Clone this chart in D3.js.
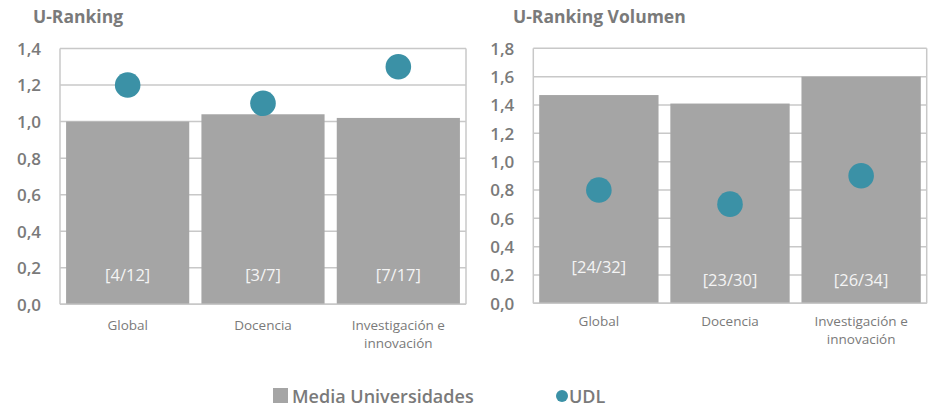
<!DOCTYPE html>
<html>
<head>
<meta charset="utf-8">
<script src="https://cdn.jsdelivr.net/npm/d3@7/dist/d3.min.js"></script>
<style>
  html, body { margin: 0; padding: 0; background: #fff; }
  svg { display: block; font-family: "Open Sans", "Noto Sans", sans-serif; }
</style>
</head>
<body>
<svg id="chart" width="935" height="409"></svg>
<script>
// Categories shared by both panels
const categories = ["Global", "Docencia", "Investigación e innovación"];

// U-Ranking (productividad)
const mediaRanking = [1.00, 1.04, 1.02];
const udlRanking = [1.2, 1.1, 1.3];
const posRanking = ["[4/12]", "[3/7]", "[7/17]"];
const ticksRanking = [0, 0.2, 0.4, 0.6, 0.8, 1.0, 1.2, 1.4];

// U-Ranking Volumen
const mediaVolumen = [1.47, 1.41, 1.60];
const udlVolumen = [0.8, 0.7, 0.9];
const posVolumen = ["[24/32]", "[23/30]", "[26/34]"];
const ticksVolumen = [0, 0.2, 0.4, 0.6, 0.8, 1.0, 1.2, 1.4, 1.6, 1.8];

// Legend entries
const legendItems = ["Media Universidades", "UDL"];

const BAR = "#a5a5a5";
const DOT = "#3b91a6";
const GRID = "#c8c8c8";
const TEXT = "#7a7a7a";

const svg = d3.select("#chart");
const fmt = v => d3.format(".1f")(v).replace(".", ",");

function panel(cfg) {
  const g = svg.append("g");
  const x = d3.scaleBand()
    .domain(categories)
    .range([cfg.x0, cfg.x1])
    .paddingInner(0.09)
    .paddingOuter(0.045);
  const y = d3.scaleLinear()
    .domain([0, cfg.ticks[cfg.ticks.length - 1]])
    .range([cfg.yBot, cfg.yTop]);

  // title
  g.append("text")
    .attr("x", cfg.titleX).attr("y", 23)
    .attr("font-size", 17.5).attr("font-weight", 700)
    .attr("fill", TEXT)
    .text(cfg.title);

  // horizontal gridlines
  g.append("g").selectAll("line").data(cfg.ticks).join("line")
    .attr("x1", cfg.x0).attr("x2", cfg.x1)
    .attr("y1", d => y(d)).attr("y2", d => y(d))
    .attr("stroke", GRID).attr("stroke-width", 1.5);

  // plot frame sides
  g.append("line").attr("x1", cfg.x0).attr("x2", cfg.x0)
    .attr("y1", cfg.yTop).attr("y2", cfg.yBot)
    .attr("stroke", GRID).attr("stroke-width", 1.5);
  g.append("line").attr("x1", cfg.x1).attr("x2", cfg.x1)
    .attr("y1", cfg.yTop).attr("y2", cfg.yBot)
    .attr("stroke", GRID).attr("stroke-width", 1.5);

  // y axis labels
  const yAxis = d3.axisLeft(y).tickValues(cfg.ticks).tickFormat(fmt).tickSize(0).tickPadding(19);
  const ax = g.append("g").attr("transform", `translate(${cfg.x0},0)`).call(yAxis);
  ax.select(".domain").remove();
  ax.selectAll("text")
    .attr("font-family", "'Open Sans', 'Noto Sans', sans-serif")
    .attr("font-size", 17).attr("font-weight", 600)
    .attr("fill", TEXT).attr("dy", "0.35em");

  // bars (media)
  g.append("g").selectAll("rect").data(cfg.media).join("rect")
    .attr("x", (d, i) => x(categories[i]))
    .attr("width", x.bandwidth())
    .attr("y", d => y(d))
    .attr("height", d => y(0) - y(d))
    .attr("fill", BAR);

  // bottom axis line drawn over bars
  g.append("line").attr("x1", cfg.x0).attr("x2", cfg.x1)
    .attr("y1", y(0)).attr("y2", y(0))
    .attr("stroke", GRID).attr("stroke-width", 1.5);

  // position labels inside the bars
  g.append("g").selectAll("text").data(cfg.pos).join("text")
    .attr("x", (d, i) => x(categories[i]) + x.bandwidth() / 2)
    .attr("y", (d, i) => y(0) - cfg.labelLift[i])
    .attr("text-anchor", "middle")
    .attr("font-size", 16.5).attr("fill", "#f4f4f4")
    .text(d => d);

  // UDL dots
  g.append("g").selectAll("circle").data(cfg.udl).join("circle")
    .attr("cx", (d, i) => x(categories[i]) + x.bandwidth() / 2)
    .attr("cy", d => y(d))
    .attr("r", 12.8)
    .attr("fill", DOT);

  // category labels (wrapped)
  const wrap = { "Investigación e innovación": ["Investigación e", "innovación"] };
  categories.forEach(c => {
    const lines = wrap[c] || [c];
    const t = g.append("text")
      .attr("x", x(c) + x.bandwidth() / 2)
      .attr("y", cfg.catY)
      .attr("text-anchor", "middle")
      .attr("font-size", 13.5).attr("fill", TEXT);
    lines.forEach((l, i) => t.append("tspan")
      .attr("x", x(c) + x.bandwidth() / 2)
      .attr("dy", i === 0 ? 0 : 18)
      .text(l));
  });
}

panel({
  title: "U-Ranking", titleX: 33,
  x0: 60, x1: 466, yTop: 48.5, yBot: 304.3,
  ticks: ticksRanking, media: mediaRanking, udl: udlRanking, pos: posRanking,
  labelLift: [23, 23, 23], catY: 330
});

panel({
  title: "U-Ranking Volumen", titleX: 513,
  x0: 533.3, x1: 926.7, yTop: 48.3, yBot: 303.3,
  ticks: ticksVolumen, media: mediaVolumen, udl: udlVolumen, pos: posVolumen,
  labelLift: [30, 17, 17], catY: 326
});

// legend
const lg = svg.append("g");
lg.append("rect").attr("x", 273).attr("y", 388).attr("width", 15).attr("height", 15).attr("fill", BAR);
lg.append("text").attr("x", 292).attr("y", 403).attr("font-size", 18).attr("font-weight", 600)
  .attr("fill", TEXT).text(legendItems[0]);
lg.append("circle").attr("cx", 562).attr("cy", 396).attr("r", 6).attr("fill", DOT);
lg.append("text").attr("x", 569).attr("y", 403).attr("font-size", 18).attr("font-weight", 600)
  .attr("fill", TEXT).text(legendItems[1]);
</script>
</body>
</html>
